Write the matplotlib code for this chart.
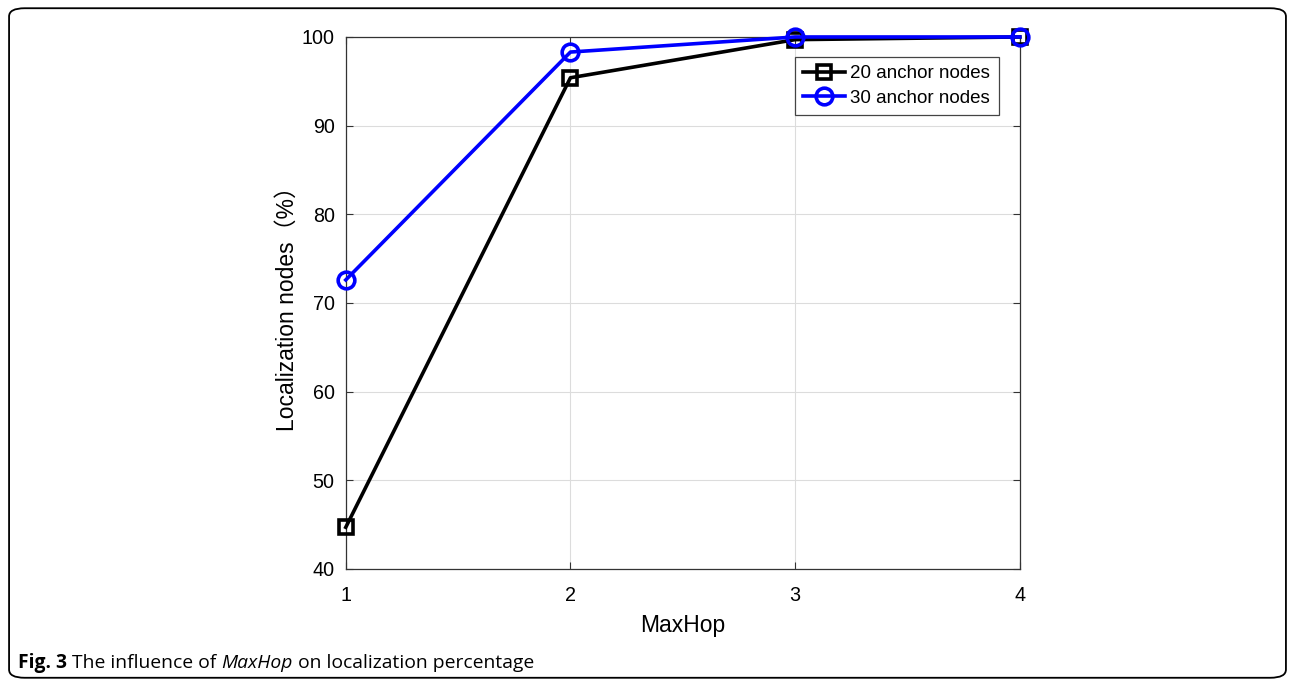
import numpy as np
import matplotlib.pyplot as plt
from matplotlib.patches import FancyBboxPatch

# data
max_hop = [1, 2, 3, 4]
anchors_20 = [44.7, 95.4, 99.7, 100.0]
anchors_30 = [72.6, 98.3, 100.0, 100.0]
labels = ['20 anchor nodes', '30 anchor nodes']
xticks = [1, 2, 3, 4]
yticks = [40, 50, 60, 70, 80, 90, 100]

plt.rcParams['font.family'] = ['Liberation Sans', 'Noto Sans CJK SC']

fig = plt.figure(figsize=(12.95, 6.86), dpi=100)
ax = fig.add_axes([0.267, 0.1706, 0.5205, 0.7755])

ax.plot(max_hop, anchors_20, color='black', lw=2.6, marker='s', ms=10,
        mfc='none', mew=2.6, label=labels[0], clip_on=False, zorder=3)
ax.plot(max_hop, anchors_30, color='blue', lw=2.6, marker='o', ms=12,
        mfc='none', mew=2.6, label=labels[1], clip_on=False, zorder=4)

ax.set_xlim(1, 4)
ax.set_ylim(40, 100)
ax.set_xticks(xticks)
ax.set_yticks(yticks)
ax.grid(True, color='#dcdcdc', lw=0.8)
ax.tick_params(direction='in', top=True, right=True, labelsize=14.2,
               length=5, color='#333333')
ax.tick_params(axis='x', pad=12)
ax.tick_params(axis='y', pad=8)
for s in ax.spines.values():
    s.set_color('#333333')
    s.set_linewidth(0.9)

ax.set_xlabel('MaxHop', fontsize=16.5, labelpad=7)
ax.set_ylabel('Localization nodes（%）', fontsize=16.5, labelpad=2)

leg = ax.legend(loc='upper right', bbox_to_anchor=(0.9685, 0.963), fontsize=13.5,
                fancybox=False, edgecolor='#444444', framealpha=1,
                handlelength=2.2, borderpad=0.45, labelspacing=0.4,
                handletextpad=0.3, borderaxespad=0)
leg.get_frame().set_linewidth(0.9)

# caption, pieces laid out one after another
fig.canvas.draw()
renderer = fig.canvas.get_renderer()
parts = [('Fig. 3 ', 'bold', 'normal'), ('The influence of ', 'normal', 'normal'),
         ('MaxHop', 'normal', 'italic'), (' on localization percentage', 'normal', 'normal')]
x = 0.0139
for txt, w, st in parts:
    t = fig.text(x, 0.026, txt, fontsize=13.9, fontweight=w, style=st,
                 family='Open Sans', va='baseline')
    bb = t.get_window_extent(renderer)
    x += bb.width / fig.bbox.width

border = FancyBboxPatch((0.007, 0.012), 0.986, 0.976,
                        boxstyle='round,pad=0,rounding_size=0.012',
                        transform=fig.transFigure, fill=False,
                        edgecolor='black', lw=1.3)
fig.patches.append(border)

fig.savefig('out.png', dpi=100)
